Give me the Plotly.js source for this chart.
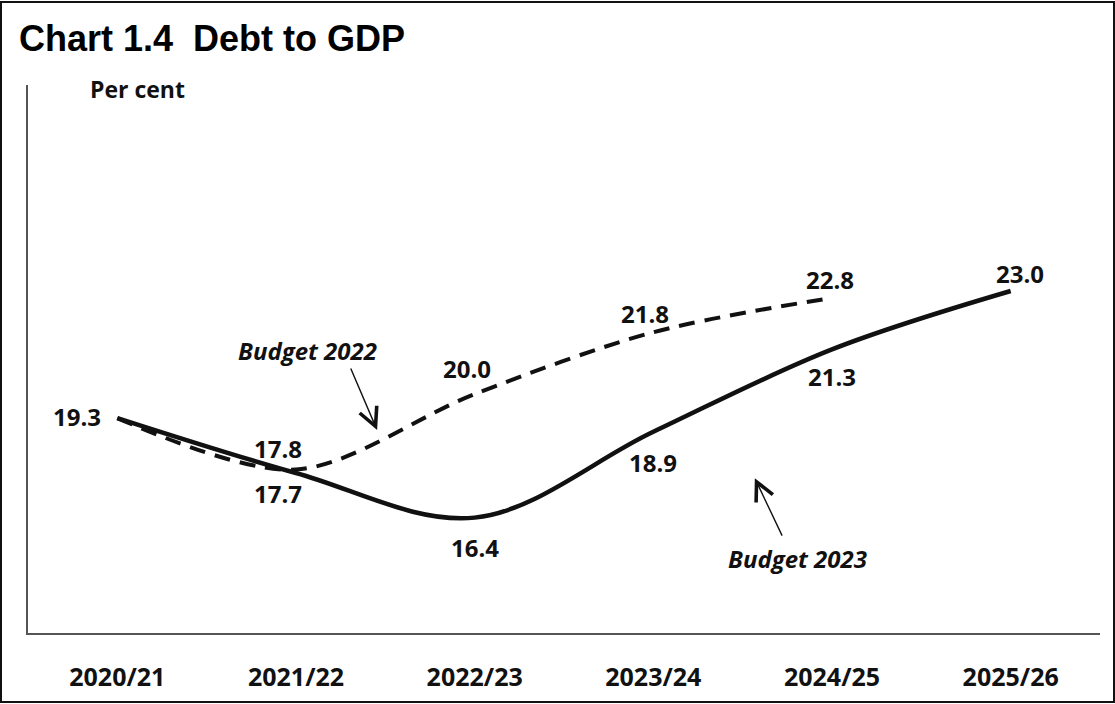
<!DOCTYPE html>
<html>
<head>
<meta charset="utf-8">
<script src="https://cdn.plot.ly/plotly-3.0.1.min.js"></script>
<style>
  html, body { margin: 0; padding: 0; background: #fff; }
  #wrap { position: relative; width: 1115px; height: 704px; }
  #chart { width: 1115px; height: 704px; }
  #frame { position: absolute; left: 0px; top: 1px; width: 1111px; height: 698px; border: 2px solid #111; pointer-events: none; }
</style>
</head>
<body>
<div id="wrap">
  <div id="chart"></div>
  <div id="frame"></div>
</div>
<script>
// ---- Data ----
const years = ["2020/21", "2021/22", "2022/23", "2023/24", "2024/25", "2025/26"];
const budget2023 = [19.3, 17.7, 16.4, 18.9, 21.3, 23.0];
const budget2022 = [19.3, 17.8, 20.0, 21.8, 22.8];
const years2022 = years.slice(0, budget2022.length);

// label offsets (pixels) for each value label
const off2023 = [[-40, 2], [-18, -21], [0, -30], [0, -31], [0, -27], [9, 18]];
const off2022 = [null, [-18, 21], [-8, 26], [-8, 19], [-2, 18]];

const fam = "'Open Sans', Lato, sans-serif";
const lblFont = { family: fam, size: 24, color: "#111" };

const traces = [
  {
    x: years2022, y: budget2022, type: "scatter", mode: "lines",
    line: { color: "#111", width: 4, dash: "16px,10px", shape: "spline", smoothing: 0.9 },
    hoverinfo: "skip", name: "Budget 2022"
  },
  {
    x: years, y: budget2023, type: "scatter", mode: "lines",
    line: { color: "#111", width: 4.5, shape: "spline", smoothing: 1 },
    hoverinfo: "skip", name: "Budget 2023"
  }
];

const annotations = [];
budget2023.forEach((v, i) => {
  annotations.push({
    x: years[i], y: v, xref: "x", yref: "y", text: "<b>" + v.toFixed(1) + "</b>",
    showarrow: false, xshift: off2023[i][0], yshift: off2023[i][1], font: lblFont
  });
});
budget2022.forEach((v, i) => {
  if (!off2022[i]) return;
  annotations.push({
    x: years2022[i], y: v, xref: "x", yref: "y", text: "<b>" + v.toFixed(1) + "</b>",
    showarrow: false, xshift: off2022[i][0], yshift: off2022[i][1], font: lblFont
  });
});

// series name labels with arrows
annotations.push({
  x: 1.065, y: 21.28, xref: "x", yref: "y", text: "<b><i>Budget 2022</i></b>",
  showarrow: false, font: lblFont
});
annotations.push({
  x: 1.454, y: 18.95, xref: "x", yref: "y", text: "",
  showarrow: true, arrowhead: 5, arrowsize: 2.6, arrowwidth: 1.4, arrowcolor: "#111",
  ax: -27, ay: -63
});
annotations.push({
  x: 3.805, y: 15.22, xref: "x", yref: "y", text: "<b><i>Budget 2023</i></b>",
  showarrow: false, font: lblFont
});
annotations.push({
  x: 3.568, y: 17.55, xref: "x", yref: "y", text: "",
  showarrow: true, arrowhead: 5, arrowsize: 2.6, arrowwidth: 1.4, arrowcolor: "#111",
  ax: 28, ay: 59
});
// y axis unit label
annotations.push({
  x: 60 / 1072, y: 0.993, xref: "paper", yref: "paper", xanchor: "left", yanchor: "middle",
  text: "<b>Per cent</b>", showarrow: false, font: { family: fam, size: 23, color: "#111" }
});

const layout = {
  width: 1115, height: 704,
  margin: { l: 28, r: 15, t: 85, b: 71 },
  paper_bgcolor: "#fff", plot_bgcolor: "#fff",
  showlegend: false,
  title: {
    text: "<b>Chart 1.4\u00a0\u00a0Debt to GDP</b>",
    x: 19 / 1115, xref: "container", xanchor: "left",
    y: 1 - 38 / 704, yref: "container", yanchor: "middle",
    font: { family: "Liberation Sans, Arial, sans-serif", size: 36, color: "#000" }
  },
  xaxis: {
    type: "category", range: [-0.5, 5.5],
    showline: true, linecolor: "#555", linewidth: 2,
    showgrid: false, zeroline: false, ticks: "",
    ticklabelstandoff: 21,
    tickfont: { family: fam, size: 25, color: "#111" },
    tickprefix: "<b>", ticksuffix: "</b>"
  },
  yaxis: {
    range: [13.04, 29.0],
    showline: true, linecolor: "#555", linewidth: 2,
    showgrid: false, zeroline: false, showticklabels: false, ticks: ""
  },
  annotations: annotations
};

Plotly.newPlot("chart", traces, layout, { displayModeBar: false, staticPlot: true });
</script>
</body>
</html>
